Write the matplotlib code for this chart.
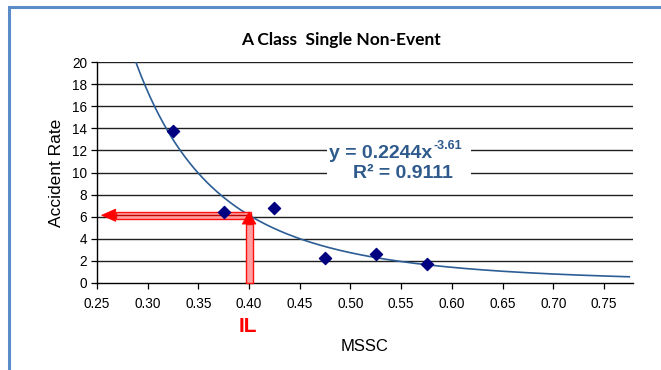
import numpy as np
import matplotlib.pyplot as plt
from matplotlib.patches import Rectangle, Polygon

# MSSC vs accident rate samples
mssc = [0.325, 0.375, 0.425, 0.475, 0.525, 0.575]
rate = [13.8, 6.4, 6.8, 2.3, 2.6, 1.7]

# power fit y = a * x^b
fit_a = 0.2244
fit_b = -3.61
fit_r2 = 0.9111
il_x = 0.40
arrow_end = 0.2545

x_ticks = [0.25, 0.30, 0.35, 0.40, 0.45, 0.50, 0.55, 0.60, 0.65, 0.70, 0.75]
y_ticks = list(range(0, 21, 2))

plt.rcParams['font.family'] = ['Liberation Sans', 'DejaVu Sans']

fig = plt.figure(figsize=(6.61, 3.70), dpi=100)
fig.patches.append(Rectangle((9 / 661, -0.1), 1.2, (370 - 7) / 370 + 0.1,
                             transform=fig.transFigure, fill=False,
                             edgecolor='#5b8bc9', lw=2.2))

ax = fig.add_axes([97 / 661, 87 / 370, 536 / 661, 221 / 370])
ax.set_xlim(0.25, 0.7786)
ax.set_ylim(0, 20)

for v in y_ticks[1:]:
    ax.axhline(v, color='#202020', lw=1.0, zorder=1)

xx = np.linspace(0.2, 0.775, 400)
yy = fit_a * xx ** fit_b
ax.plot(xx, yy, color='#2c5d94', lw=1.2, zorder=3)
ax.scatter(mssc, rate, marker='D', s=38, color='#000080', zorder=7)

# IL arrows: pink shaft with red edges, solid red head
il_y = fit_a * il_x ** fit_b
hw, hl = 0.32, 0.014        # horizontal shaft half-thickness, head length
hh = 0.56                   # horizontal head half-height
ax.add_patch(Rectangle((arrow_end + hl, il_y - hw), il_x + 0.002 - arrow_end - hl, 2 * hw,
                       facecolor='#ffa0a0', edgecolor='#ff1010', lw=1.0, zorder=5))
ax.plot([arrow_end + hl, il_x + 0.002], [il_y, il_y], color='#c00000', lw=1.0, zorder=6)
ax.add_patch(Polygon([[arrow_end, il_y], [arrow_end + hl, il_y + hh], [arrow_end + hl, il_y - hh]],
                     closed=True, facecolor='#ff0000', edgecolor='#ff0000', lw=0.5, zorder=6))

vw, vl, vh = 0.0034, 1.1, 0.0068
tip = il_y + 0.3
ax.add_patch(Rectangle((il_x - vw, 0), 2 * vw, tip - vl, facecolor='#ffa0a0',
                       edgecolor='#ff1010', lw=1.0, zorder=5, clip_on=False))
ax.add_patch(Polygon([[il_x, tip], [il_x - vh, tip - vl], [il_x + vh, tip - vl]],
                     closed=True, facecolor='#ff0000', edgecolor='#ff0000', lw=0.5, zorder=6))

for s in ['top', 'right']:
    ax.spines[s].set_visible(False)
ax.spines['left'].set_linewidth(1.0)
ax.spines['bottom'].set_linewidth(1.0)
ax.set_xticks(x_ticks)
ax.set_xticklabels([f'{v:.2f}' for v in x_ticks])
ax.set_yticks(y_ticks)
ax.tick_params(direction='out', length=4, width=0.9, labelsize=9.8, pad=3)
ax.tick_params(axis='x', pad=6)
ax.set_ylabel('Accident Rate', fontsize=12.5, labelpad=6)
ax.set_xlabel('MSSC', fontsize=12, labelpad=20)

fig.text(341 / 661, 1 - 40 / 370, 'A Class  Single Non-Event', ha='center', va='center',
         fontsize=12.5, fontweight='bold', family=['Lato', 'DejaVu Sans'])
fig.text(248 / 661, 1 - 326 / 370, 'IL', ha='center', va='center', color='#ff0000',
         fontsize=15, fontweight='bold')

# fit equation box
eq_color = '#2e5a8c'
fig.patches.append(Rectangle((327 / 661, 1 - 183 / 370), 144 / 661, 43 / 370,
                             transform=fig.transFigure, facecolor='white',
                             edgecolor='none', zorder=5))
fig.text(432 / 661, 1 - 153 / 370, f'y = {fit_a}x', ha='right', va='center',
         color=eq_color, fontsize=14, fontweight='bold', zorder=6)
fig.text(433 / 661, 1 - 146 / 370, f'{fit_b}', ha='left', va='center',
         color=eq_color, fontsize=9, fontweight='bold', zorder=6)
fig.text(403 / 661, 1 - 173 / 370, f'R² = {fit_r2}', ha='center', va='center',
         color=eq_color, fontsize=14, fontweight='bold', zorder=6)

fig.savefig('out.png', dpi=100)
